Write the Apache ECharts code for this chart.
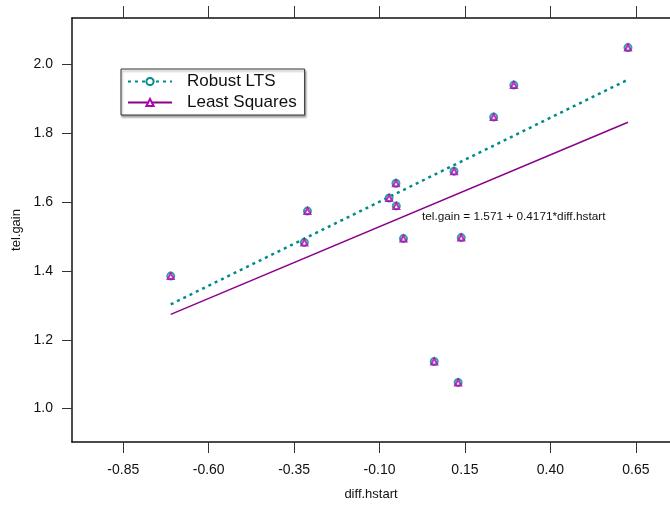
<!DOCTYPE html>
<html><head><meta charset="utf-8">
<script src="https://cdn.jsdelivr.net/npm/echarts@6/dist/echarts.min.js"></script>
<style>html,body{margin:0;padding:0;background:#fff}#c{width:670px;height:507px}</style>
</head><body><div id="c"></div>
<script>
var diffHstart = [-0.711, -0.311, -0.320, -0.072, -0.052, -0.051, -0.030, 0.118, 0.139, 0.234, 0.293, 0.627, 0.060, 0.130];
var telGain    = [1.385, 1.574, 1.483, 1.612, 1.655, 1.589, 1.494, 1.690, 1.497, 1.847, 1.940, 2.049, 1.137, 1.076];
var fitX       = [-0.711, 0.627];
var robustY    = [1.303, 1.956];
var lsY        = [1.274, 1.832];
var xTicks     = [-0.85, -0.60, -0.35, -0.10, 0.15, 0.40, 0.65];
var yTicks     = [1.0, 1.2, 1.4, 1.6, 1.8, 2.0];
var seriesNames = ['Robust LTS', 'Least Squares'];
var annotation = 'tel.gain = 1.571 + 0.4171*diff.hstart';

var teal = '#008b8b', purple = '#8b008b', magenta = '#b000b0';
var font = 'Liberation Sans, Arial, sans-serif';
var pts = diffHstart.map(function(x, i){ return [x, telGain[i]]; });
function fit(ys){ return fitX.map(function(x, i){ return [x, ys[i]]; }); }

var chart = echarts.init(document.getElementById('c'), null, {renderer:'canvas'});
chart.setOption({
  animation: false,
  backgroundColor: '#fff',
  grid: {left: 72, top: 18, right: -1, bottom: 65, containLabel: false},
  legend: {
    data: seriesNames, orient: 'vertical', left: 121, top: 69,
    itemWidth: 44, itemHeight: 9, itemGap: 4,
    padding: [4, 8, 4, 6],
    borderColor: '#333', borderWidth: 1, backgroundColor: '#fff',
    shadowColor: 'rgba(0,0,0,0.35)', shadowOffsetX: 1, shadowOffsetY: 2, shadowBlur: 2,
    textStyle: {fontFamily: font, fontSize: 17, color: '#111', padding: [0,0,0,10]}
  },
  xAxis: [{
    type: 'value', min: -1.0, max: 0.75, position: 'bottom',
    axisLine: {show: true, onZero: false, lineStyle: {color: '#111', width: 1.5}},
    axisTick: {show: true, customValues: xTicks, length: 11, lineStyle: {color: '#333'}},
    axisLabel: {customValues: xTicks, margin: 21, fontFamily: font, fontSize: 14, color: '#111',
      formatter: function(v){ return v.toFixed(2); }},
    splitLine: {show: false},
    name: 'diff.hstart', nameLocation: 'middle', nameGap: 46,
    nameTextStyle: {fontFamily: font, fontSize: 13, color: '#111'}
  }, {
    type: 'value', min: -1.0, max: 0.75, position: 'top',
    axisLine: {show: true, onZero: false, lineStyle: {color: '#111', width: 1.5}},
    axisTick: {show: true, customValues: xTicks, length: 12, lineStyle: {color: '#333'}},
    axisLabel: {show: false}, splitLine: {show: false}
  }],
  yAxis: [{
    type: 'value', min: 0.903, max: 2.135, position: 'left',
    axisLine: {show: true, onZero: false, lineStyle: {color: '#111', width: 1.5}},
    axisTick: {show: true, customValues: yTicks, length: 10, lineStyle: {color: '#333'}},
    axisLabel: {customValues: yTicks, margin: 19, fontFamily: font, fontSize: 14, color: '#111',
      formatter: function(v){ return v.toFixed(1); }},
    splitLine: {show: false},
    name: 'tel.gain', nameLocation: 'middle', nameGap: 40, nameRotate: 90,
    nameTextStyle: {fontFamily: font, fontSize: 13, color: '#111'}
  }],
  graphic: [{
    type: 'text', left: 422, top: 211,
    style: {text: annotation, font: '11.8px ' + font, fill: '#111'}
  }],
  series: [{
    name: seriesNames[0], type: 'line', data: fit(robustY),
    symbol: 'emptyCircle', symbolSize: 7, showSymbol: false,
    lineStyle: {color: teal, width: 2.5, type: [3, 4]},
    itemStyle: {color: teal, borderColor: teal, borderWidth: 1.5}, z: 3
  }, {
    name: seriesNames[1], type: 'line', data: fit(lsY),
    symbol: 'emptyTriangle', symbolSize: 7, showSymbol: false,
    lineStyle: {color: purple, width: 1.5, type: 'solid'},
    itemStyle: {color: magenta, borderColor: magenta, borderWidth: 1.5}, z: 3
  }, {
    name: 'pts-circle', type: 'scatter', data: pts,
    symbol: 'emptyCircle', symbolSize: 7,
    itemStyle: {color: teal, borderColor: teal, borderWidth: 1.2}, z: 4
  }, {
    name: 'pts-triangle', type: 'scatter', data: pts,
    symbol: 'emptyTriangle', symbolSize: 6,
    itemStyle: {color: magenta, borderColor: magenta, borderWidth: 1.3}, z: 5
  }]
});
</script></body></html>
